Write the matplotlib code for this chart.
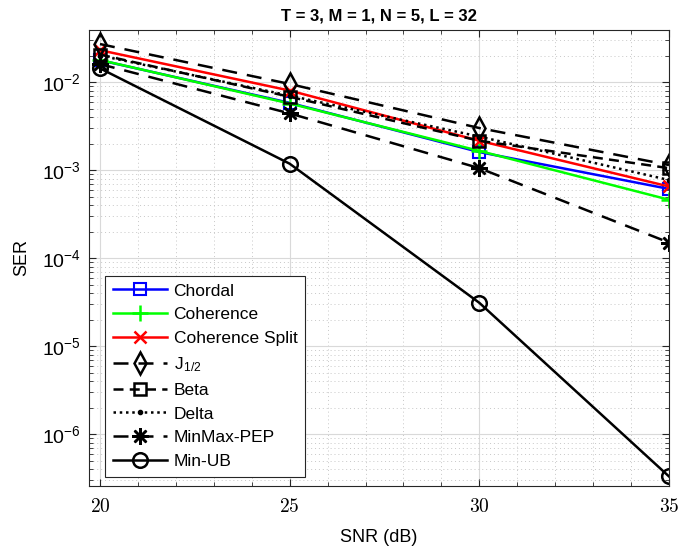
import numpy as np
import matplotlib
matplotlib.use("Agg")
import matplotlib.pyplot as plt
from matplotlib.ticker import LogLocator, LogFormatterMathtext, MultipleLocator, FuncFormatter, NullFormatter

plt.rcParams['font.family'] = ['Liberation Sans', 'DejaVu Sans']
plt.rcParams['mathtext.fontset'] = 'cm'

snr = [20, 25, 30, 35]

chordal = [0.0177, 0.0058, 0.0016, 0.00061]
coherence = [0.0178, 0.0057, 0.00165, 0.00046]
coh_split = [0.0230, 0.0080, 0.00215, 0.00065]
j_half = [0.027, 0.0095, 0.0030, 0.00114]
beta = [0.0205, 0.0068, 0.00215, 0.00105]
delta = [0.0200, 0.0070, 0.0024, 0.00077]
minmax_pep = [0.0160, 0.0044, 0.00105, 0.00015]
min_ub = [0.0143, 0.00118, 3.1e-5, 3.3e-7]

fig = plt.figure(figsize=(6.81, 5.54), dpi=100)
ax = fig.add_axes([89/681, 1 - 486/554, 580/681, 456/554])

lw = 1.8
ax.plot(snr, chordal, color=(0, 0, 1), lw=lw, marker='s', ms=8, mfc='none', mew=1.5, label='Chordal')
ax.plot(snr, coherence, color=(0, 1, 0), lw=lw, marker='+', ms=11, mew=1.8, label='Coherence')
ax.plot(snr, coh_split, color=(1, 0, 0), lw=lw, marker='x', ms=9, mew=1.8, label='Coherence Split')
ax.plot(snr, j_half, color='k', lw=lw, ls=(0, (6, 4)), marker='d', ms=11, mfc='none', mew=1.8,
        label=r'J$_{\mathregular{1/2}}$')
ax.plot(snr, beta, color='k', lw=lw, ls=(0, (4, 2.5)), marker='s', ms=8, mfc='none', mew=1.8, label='Beta')
ax.plot(snr, delta, color='k', lw=lw, ls=(0, (1, 1.5)), marker='.', ms=6, label='Delta')
ax.plot(snr, minmax_pep, color='k', lw=lw, ls=(0, (6, 4)), marker=(8, 2, 0), ms=12, mew=1.8,
        label='MinMax-PEP')
ax.plot(snr, min_ub, color='k', lw=lw, marker='o', ms=10.5, mfc='none', mew=1.8, label='Min-UB')

ax.set_yscale('log')
ax.set_xlim(19.71, 35)
ax.set_ylim(2.57e-7, 0.039)

ax.xaxis.set_major_locator(MultipleLocator(5))
ax.xaxis.set_minor_locator(MultipleLocator(1))
ax.xaxis.set_major_formatter(FuncFormatter(lambda v, p: r'$%d$' % v))
ax.yaxis.set_major_locator(LogLocator(base=10, numticks=20))
ax.yaxis.set_minor_locator(LogLocator(base=10, subs=np.arange(2, 10), numticks=20))
ax.yaxis.set_major_formatter(LogFormatterMathtext())
ax.yaxis.set_minor_formatter(NullFormatter())

ax.tick_params(which='both', direction='in', top=True, right=True, labelsize=14, color='0.15')
ax.tick_params(axis='x', which='major', pad=9)
ax.tick_params(axis='y', which='major', pad=6)
ax.tick_params(which='major', length=5)
ax.tick_params(which='minor', length=3)

ax.grid(True, which='major', color='0.85', lw=0.8, ls='-')
ax.grid(True, which='minor', color='0.78', lw=0.7, ls=(0, (1, 3)))
ax.set_axisbelow(True)
for s in ax.spines.values():
    s.set_color('0.15')
    s.set_linewidth(0.8)

ax.set_xlabel('SNR (dB)', fontsize=13, labelpad=9)
ax.set_ylabel('SER', fontsize=13, labelpad=8)
ax.set_title('T = 3, M = 1, N = 5, L = 32', fontsize=12, fontweight='bold', pad=7)

leg = ax.legend(loc='lower left', bbox_to_anchor=(16/580, 9/456), borderaxespad=0,
                fontsize=12.5, handlelength=3.1, labelspacing=0.5, fancybox=False,
                framealpha=1, edgecolor='0.15', borderpad=0.45, handletextpad=0.4)
leg.get_frame().set_linewidth(0.8)

fig.savefig('out.png', dpi=100)
